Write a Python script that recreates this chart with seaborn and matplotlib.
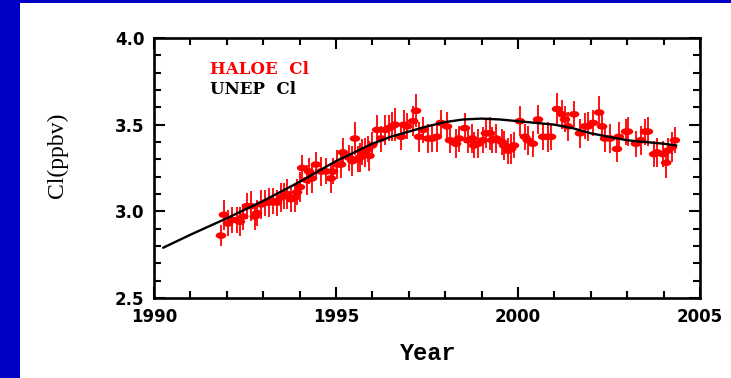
import matplotlib
matplotlib.use("Agg")
import matplotlib.pyplot as plt
from matplotlib.patches import Rectangle
from matplotlib.path import Path
from matplotlib.transforms import Affine2D
from matplotlib.ticker import MultipleLocator
import seaborn as sns
import pandas as pd

# ---- data ----
years = [1991.84, 1991.92, 1992.03, 1992.14, 1992.28, 1992.36, 1992.45, 1992.55, 1992.66, 1992.77,
         1992.83, 1992.94, 1993.05, 1993.16, 1993.27, 1993.38, 1993.49, 1993.57, 1993.65, 1993.76,
         1993.87, 1993.93, 1994.01, 1994.07, 1994.20, 1994.26, 1994.34, 1994.45, 1994.59,
         1994.73, 1994.86, 1994.92, 1995.03, 1995.14, 1995.19, 1995.36, 1995.45, 1995.52, 1995.60,
         1995.65, 1995.71, 1995.80, 1995.88, 1995.92, 1995.99, 1996.13, 1996.24, 1996.35, 1996.46,
         1996.54, 1996.62, 1996.79, 1996.87, 1996.95, 1997.12, 1997.20, 1997.28, 1997.39, 1997.53,
         1997.64, 1997.77, 1997.88,
         1998.05, 1998.13, 1998.30, 1998.38, 1998.54, 1998.63, 1998.74, 1998.79, 1998.90,
         1999.04, 1999.12, 1999.23, 1999.29, 1999.40, 1999.56, 1999.62, 1999.73, 1999.81, 1999.89,
         2000.05, 2000.19, 2000.27, 2000.41, 2000.55, 2000.69, 2000.82, 2000.91,
         2001.07, 2001.21, 2001.29, 2001.37, 2001.54, 2001.70, 2001.84, 2001.92,
         2002.06, 2002.23, 2002.31, 2002.39, 2002.53, 2002.72, 2002.77, 2002.97,
         2003.02, 2003.24, 2003.38, 2003.49, 2003.57, 2003.74, 2003.82, 2003.98,
         2004.07, 2004.12, 2004.23, 2004.31]

haloe_cl = [2.86, 2.98, 2.93, 2.95, 2.95, 2.94, 2.97, 3.03, 3.03, 2.97,
            2.99, 3.04, 3.05, 3.05, 3.06, 3.05, 3.08, 3.09, 3.10, 3.07,
            3.08, 3.11, 3.14, 3.25, 3.18, 3.23, 3.19, 3.27, 3.23,
            3.23, 3.19, 3.23, 3.27, 3.27, 3.34, 3.31, 3.29, 3.42, 3.30,
            3.31, 3.34, 3.34, 3.36, 3.32, 3.38, 3.47, 3.42, 3.47, 3.48,
            3.49, 3.50, 3.43, 3.50, 3.49, 3.52, 3.58, 3.43, 3.47, 3.42,
            3.42, 3.43, 3.51,
            3.49, 3.41, 3.39, 3.42, 3.48, 3.41, 3.42, 3.38, 3.39,
            3.41, 3.45, 3.45, 3.41, 3.42, 3.40, 3.38, 3.35, 3.36, 3.38,
            3.52, 3.43, 3.41, 3.39, 3.53, 3.43, 3.43, 3.43,
            3.59, 3.56, 3.53, 3.49, 3.56, 3.45, 3.49, 3.49,
            3.51, 3.57, 3.49, 3.42, 3.42, 3.36, 3.43, 3.46,
            3.46, 3.39, 3.41, 3.46, 3.46, 3.33, 3.34, 3.33,
            3.28, 3.35, 3.37, 3.41]

haloe_err = [0.06, 0.085, 0.075, 0.075, 0.075, 0.085, 0.075, 0.075, 0.085, 0.075,
             0.075, 0.085, 0.075, 0.085, 0.075, 0.075, 0.085, 0.075, 0.085, 0.075,
             0.085, 0.075, 0.085, 0.075, 0.085, 0.075, 0.085, 0.075, 0.085,
             0.075, 0.085, 0.075, 0.085, 0.075, 0.085, 0.075, 0.085, 0.095, 0.075,
             0.085, 0.075, 0.085, 0.075, 0.085, 0.075, 0.085, 0.075, 0.085, 0.075,
             0.085, 0.095, 0.075, 0.085, 0.075, 0.085, 0.095, 0.085, 0.075, 0.085,
             0.075, 0.085, 0.075,
             0.085, 0.075, 0.085, 0.075, 0.085, 0.075, 0.085, 0.075, 0.085,
             0.075, 0.085, 0.095, 0.075, 0.085, 0.075, 0.085, 0.075, 0.085, 0.075,
             0.085, 0.075, 0.085, 0.075, 0.085, 0.075, 0.085, 0.075,
             0.095, 0.085, 0.075, 0.085, 0.075, 0.085, 0.075, 0.085,
             0.075, 0.095, 0.085, 0.075, 0.085, 0.075, 0.085, 0.075,
             0.085, 0.075, 0.085, 0.075, 0.085, 0.075, 0.085, 0.075,
             0.085, 0.075, 0.085, 0.075]

unep_years = [1990.25, 1991.0, 1992.0, 1993.0, 1994.0, 1995.0, 1995.5, 1996.0, 1996.5, 1997.0,
              1997.5, 1998.0, 1998.5, 1999.0, 1999.5, 2000.0, 2000.5, 2001.0, 2001.5, 2002.0,
              2002.5, 2003.0, 2003.5, 2004.0, 2004.35]
unep_cl = [2.79, 2.865, 2.96, 3.06, 3.17, 3.29, 3.34, 3.39, 3.43, 3.46,
           3.49, 3.515, 3.53, 3.535, 3.53, 3.52, 3.51, 3.50, 3.48, 3.45,
           3.43, 3.41, 3.40, 3.39, 3.38]

legend_labels = ["HALOE  Cl", "UNEP  Cl"]
x_label = "Year"
y_label = "Cl(ppbv)"

# ---- figure ----
sns.set_style("ticks")
plt.rcParams["font.family"] = ["DejaVu Sans"]
plt.rcParams["text.color"] = "black"
plt.rcParams["axes.labelcolor"] = "black"
plt.rcParams["xtick.color"] = "black"
plt.rcParams["ytick.color"] = "black"

fig = plt.figure(figsize=(7.31, 3.78), dpi=100)
fig.patch.set_facecolor("white")
blue = "#0000C4"
fig.patches.append(Rectangle((0, 0), 20 / 731, 1, transform=fig.transFigure,
                             facecolor=blue, edgecolor="none", zorder=0))
fig.patches.append(Rectangle((0, 1 - 3 / 378), 1, 3 / 378, transform=fig.transFigure,
                             facecolor=blue, edgecolor="none", zorder=0))

ax = fig.add_axes([154 / 731, 1 - 298 / 378, 546 / 731, 260 / 378])

df = pd.DataFrame({"year": years, "cl": haloe_cl, "err": haloe_err})
udf = pd.DataFrame({"year": unep_years, "cl": unep_cl})

ax.errorbar(df["year"], df["cl"], yerr=df["err"], fmt="none",
            ecolor="#FF0000", elinewidth=1.3, capsize=0, zorder=2)
ellipse = Path.unit_circle().transformed(Affine2D().scale(1.6, 1.0))
sns.scatterplot(data=df, x="year", y="cl", ax=ax, marker=ellipse, s=58,
                color="#FF0000", edgecolor="none", linewidth=0, zorder=3, legend=False)
sns.lineplot(data=udf, x="year", y="cl", ax=ax, color="black", linewidth=1.7,
             zorder=4, legend=False)

ax.set_xlim(1990, 2005)
ax.set_ylim(2.5, 4.0)
ax.xaxis.set_minor_locator(MultipleLocator(1))
ax.yaxis.set_minor_locator(MultipleLocator(0.1))
ax.set_xticks([1990, 1995, 2000, 2005])
ax.set_xticklabels(["1990", "1995", "2000", "2005"])
ax.set_yticks([2.5, 3.0, 3.5, 4.0])
ax.set_yticklabels(["2.5", "3.0", "3.5", "4.0"])

for s in ax.spines.values():
    s.set_visible(True)
    s.set_linewidth(1.9)
    s.set_color("black")

ax.tick_params(which="both", direction="in", top=True, right=True, color="black", width=1.5)
ax.tick_params(which="major", length=8, pad=7)
ax.tick_params(which="minor", length=5)
for lab in ax.get_xticklabels() + ax.get_yticklabels():
    lab.set_fontweight("heavy")
    lab.set_fontsize(12)
    lab.set_family("DejaVu Sans")
    lab.set_color("black")

ax.set_xlabel("")
ax.set_ylabel("")
fig.text(428 / 731, 1 - 354 / 378, x_label, ha="center", va="center", color="black",
         fontsize=17, fontweight="bold", family=["Liberation Mono", "DejaVu Sans Mono"])
fig.text(57 / 731, 1 - 155 / 378, y_label, ha="center", va="center", rotation=90,
         color="black", fontsize=17, family=["Liberation Serif", "DejaVu Serif"])

ax.text((210 - 154) / 546, (298 - 70) / 260, legend_labels[0], transform=ax.transAxes,
        ha="left", va="center", color="#FF0000", fontsize=12, fontweight="bold",
        family=["DejaVu Serif"])
ax.text((210 - 154) / 546, (298 - 90) / 260, legend_labels[1], transform=ax.transAxes,
        ha="left", va="center", color="black", fontsize=12, fontweight="bold",
        family=["DejaVu Serif"])

fig.savefig("out.png", dpi=100, facecolor="white")
